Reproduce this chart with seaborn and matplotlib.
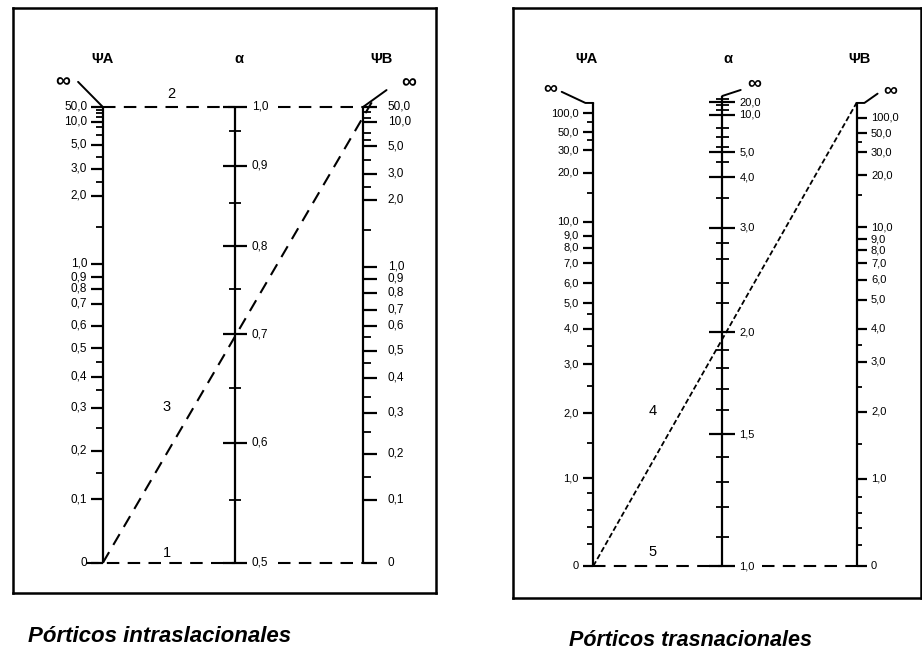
import matplotlib
matplotlib.use("Agg")
import matplotlib.pyplot as plt
import seaborn as sns
import pandas as pd

# ---- left nomograph: porticos intraslacionales ----
# tick values and their heights on the scale (0 = bottom line, 100 = top line)
left_psi_values = [50, 10, 5, 3, 2, 1, 0.9, 0.8, 0.7, 0.6, 0.5, 0.4, 0.3, 0.2, 0.1, 0]
left_psiA_heights = [100, 96.7, 91.7, 86.4, 80.5, 65.6, 62.7, 60.1, 56.8, 52.0, 47.1, 40.8, 34.0, 24.6, 14.0, 0]
left_psiB_heights = [100, 96.7, 91.4, 85.3, 79.6, 64.9, 62.3, 59.2, 55.5, 52.0, 46.5, 40.6, 32.9, 23.9, 13.8, 0]
left_psiA_minor = [99.3, 98.7, 97.8, 95.6, 93.9, 89.0, 83.6, 73.7, 44.1, 37.9, 29.6, 19.7]
left_psiB_minor = [98.9, 97.6, 94.3, 92.8, 88.4, 82.5, 73.0, 49.6, 43.9, 36.4, 28.7, 18.9]
left_alpha_values = [1.0, 0.9, 0.8, 0.7, 0.6, 0.5]
left_alpha_heights = [100, 87.1, 69.5, 50.2, 26.3, 0]
left_alpha_minor = [94.7, 78.9, 60.1, 38.4, 13.8]

# ---- right nomograph: porticos traslacionales ----
right_psi_values = [100, 50, 30, 20, 10, 9, 8, 7, 6, 5, 4, 3, 2, 1, 0]
right_psiA_heights = [97.8, 93.7, 89.8, 84.9, 74.3, 71.3, 68.7, 65.4, 61.1, 56.8, 51.2, 43.6, 33.0, 19.0, 0]
right_psiB_heights = [96.8, 93.5, 89.4, 84.4, 73.2, 70.6, 68.2, 65.4, 61.8, 57.5, 51.2, 44.1, 33.3, 18.8, 0]
right_psiA_minor = [95.9, 92.0, 80.6, 54.4, 47.5, 38.9, 26.6, 15.8, 12.1, 8.4, 4.8]
right_psiB_minor = [91.6, 80.1, 47.7, 38.7, 26.3, 14.9, 11.4, 8.2, 4.5]
right_alpha_values = [20, 10, 5, 4, 3, 2, 1.5, 1.0]
right_alpha_heights = [100.2, 97.4, 89.4, 84.0, 73.0, 50.5, 28.5, 0]
right_alpha_minor = [100.9, 99.6, 98.5, 94.6, 92.7, 90.5, 87.3, 79.5, 69.8, 66.3, 61.1, 56.8,
                     46.7, 42.8, 38.2, 33.7, 23.5, 18.1, 12.7, 6.3]

sns.set_style("white")
plt.rcParams['font.family'] = ['Liberation Sans', 'DejaVu Sans']
plt.rcParams['text.color'] = 'black'


def fmt(v):
    if v == 0:
        return "0"
    return f"{v:.1f}".replace('.', ',')


def scale(ax, x, values, heights, minor, side, major_len, minor_len, top, gap=0.03,
          both=False, fs=8.5):
    ax.vlines(x, 0, top, color='black', lw=1.6)
    for v, h in zip(values, heights):
        x0 = x - major_len if (both or side < 0) else x
        x1 = x + major_len if (both or side > 0) else x
        ax.hlines(h, x0, x1, color='black', lw=1.6)
        if side < 0:
            ax.text(x0 - gap, h, fmt(v), ha='right', va='center', fontsize=fs)
        else:
            ax.text(x1 + gap, h, fmt(v), ha='left', va='center', fontsize=fs)
    for h in minor:
        x0 = x - minor_len if (both or side < 0) else x
        x1 = x + minor_len if (both or side > 0) else x
        ax.hlines(h, x0, x1, color='black', lw=1.3)


def dashed(ax, xs, ys, dash=(6, 4), lw=1.5):
    df = pd.DataFrame({'x': xs, 'y': ys})
    sns.lineplot(data=df, x='x', y='y', ax=ax, sort=False, estimator=None,
                 color='black', lw=lw, linestyle=(0, dash))


def frame(ax, xlim, ylim):
    ax.set_xlim(*xlim)
    ax.set_ylim(*ylim)
    ax.set_xticks([])
    ax.set_yticks([])
    ax.set_xlabel('')
    ax.set_ylabel('')
    for s in ax.spines.values():
        s.set_visible(True)
        s.set_color('black')
        s.set_linewidth(1.8)


fig = plt.figure(figsize=(9.22, 6.54), dpi=100)

# left panel
ax1 = fig.add_axes([13 / 922, 61 / 654, 423 / 922, 585 / 654])
cA, cM, cB = 0.0, 1.015, 2.0
scale(ax1, cA, left_psi_values, left_psiA_heights, left_psiA_minor, -1, 0.09, 0.05, 100)
scale(ax1, cB, left_psi_values, left_psiB_heights, left_psiB_minor, +1, 0.11, 0.06, 100, gap=0.08)
scale(ax1, cM, left_alpha_values, left_alpha_heights, left_alpha_minor, +1, 0.09, 0.045, 100,
      gap=0.04, both=True)
# infinity markers
ax1.plot([cA, cA - 0.19], [100, 105.5], color='black', lw=1.4)
ax1.text(cA - 0.31, 105.5, "∞", ha='center', va='center', fontsize=15, fontweight='bold')
ax1.plot([cB, cB + 0.18], [100, 103.7], color='black', lw=1.4)
ax1.text(cB + 0.35, 105.3, "∞", ha='center', va='center', fontsize=15, fontweight='bold')
# guide lines
dashed(ax1, [cA, cM], [100, 100])
dashed(ax1, [cM + 0.33, cB], [100, 100])
dashed(ax1, [cA - 0.13, cM], [0, 0])
dashed(ax1, [cM + 0.33, cB], [0, 0])
dashed(ax1, [cA, cB + 0.07], [0, 101.2])
ax1.text(0.53, 102.8, "2", ha='center', va='center', fontsize=10.5)
ax1.text(0.49, 2.2, "1", ha='center', va='center', fontsize=10.5)
ax1.text(0.49, 34.2, "3", ha='center', va='center', fontsize=10.5)
for x, t in [(cA, "ΨA"), (cM + 0.03, "α"), (cB + 0.14, "ΨB")]:
    ax1.text(x, 110.5, t, ha='center', va='center', fontsize=10.5, fontweight='bold')
frame(ax1, (-0.69, 2.56), (-6.6, 121.7))

# right panel
ax2 = fig.add_axes([513 / 922, 56 / 654, 408 / 922, 590 / 654])
rA, rM, rB = 0.0, 0.98, 2.0
scale(ax2, rA, right_psi_values, right_psiA_heights, right_psiA_minor, -1, 0.08, 0.045, 100, fs=8)
scale(ax2, rB, right_psi_values, right_psiB_heights, right_psiB_minor, +1, 0.08, 0.045, 100,
      gap=0.03, fs=8)
scale(ax2, rM, right_alpha_values, right_alpha_heights, right_alpha_minor, +1, 0.1, 0.05, 101.5,
      gap=0.03, both=True, fs=8)
ax2.plot([rA, rA - 0.06, rA - 0.24], [100, 100, 102.4], color='black', lw=1.4)
ax2.text(rA - 0.33, 102.8, "∞", ha='center', va='center', fontsize=14, fontweight='bold')
ax2.plot([rM, rM + 0.14], [101.5, 102.8], color='black', lw=1.4)
ax2.text(rM + 0.24, 103.9, "∞", ha='center', va='center', fontsize=14, fontweight='bold')
ax2.plot([rB, rB + 0.06, rB + 0.16], [100, 100, 102.0], color='black', lw=1.4)
ax2.text(rB + 0.26, 102.4, "∞", ha='center', va='center', fontsize=14, fontweight='bold')
dashed(ax2, [rA, rM], [0, 0])
dashed(ax2, [rM + 0.3, rB], [0, 0])
dashed(ax2, [rA, rB], [0, 100], dash=(3, 1.5), lw=1.3)
ax2.text(0.45, 3.0, "5", ha='center', va='center', fontsize=10.5)
ax2.text(0.45, 33.5, "4", ha='center', va='center', fontsize=10.5)
for x, t in [(rA - 0.05, "ΨA"), (rM + 0.04, "α"), (rB + 0.02, "ΨB")]:
    ax2.text(x, 109.5, t, ha='center', va='center', fontsize=10.5, fontweight='bold')
frame(ax2, (-0.61, 2.49), (-6.9, 120.5))

fig.text(160 / 922, 1 - 636 / 654, "Pórticos intraslacionales", ha='center', va='center',
         fontsize=16, fontstyle='italic', fontweight='bold', color='black')
fig.text(690 / 922, 1 - 640 / 654, "Pórticos trasnacionales", ha='center', va='center',
         fontsize=15.5, fontstyle='italic', fontweight='bold', color='black')

fig.savefig("out.png", dpi=100, facecolor='white')
